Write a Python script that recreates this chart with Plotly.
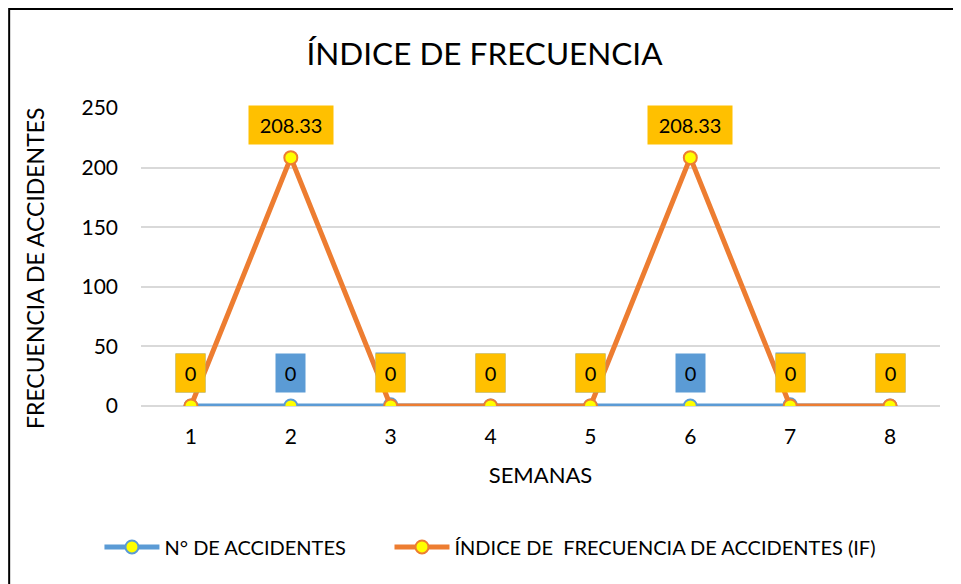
import plotly.graph_objects as go

semanas = [1, 2, 3, 4, 5, 6, 7, 8]
n_accidentes = [0, 0, 1, 0, 0, 0, 1, 0]
indice_frecuencia = [0, 208.33, 0, 0, 0, 208.33, 0, 0]

FONT = "Lato, Open Sans, sans-serif"
BLUE = "#5B9BD5"
ORANGE = "#ED7D31"
GOLD = "#FFC000"

fig = go.Figure()

fig.add_trace(
    go.Scatter(
        x=semanas,
        y=n_accidentes,
        name="N° DE ACCIDENTES",
        mode="lines+markers",
        line={"color": BLUE, "width": 5},
        marker={"size": 13, "color": "#FFFF00", "line": {"color": BLUE, "width": 2}},
        legend="legend",
    )
)
fig.add_trace(
    go.Scatter(
        x=semanas,
        y=indice_frecuencia,
        name="ÍNDICE DE  FRECUENCIA DE ACCIDENTES (IF)",
        mode="lines+markers",
        line={"color": ORANGE, "width": 5},
        marker={"size": 13, "color": "#FFFF00", "line": {"color": ORANGE, "width": 2}},
        legend="legend2",
    )
)

# data labels: blue first so the orange ones sit on top
for ys, bg in [(n_accidentes, BLUE), (indice_frecuencia, GOLD)]:
    for x, y in zip(semanas, ys):
        t = f"{y:g}"
        fig.add_annotation(
            x=x,
            y=y,
            text=t,
            showarrow=False,
            yshift=33,
            bgcolor=bg,
            borderpad=7,
            width=11 * len(t) + 4,
            font={"family": FONT, "size": 20, "color": "black"},
        )

# y axis title
fig.add_annotation(
    xref="paper",
    yref="paper",
    x=-0.1327,
    y=0.463,
    xanchor="center",
    yanchor="middle",
    text="FRECUENCIA DE ACCIDENTES",
    textangle=-90,
    showarrow=False,
    font={"family": FONT, "size": 23, "color": "black"},
)

# outer chart border
fig.add_shape(
    type="rect",
    xref="paper",
    yref="paper",
    x0=-0.165,
    x1=1.04,
    y0=-0.65,
    y1=1.332,
    line={"color": "black", "width": 2},
    fillcolor="rgba(0,0,0,0)",
    layer="below",
)

legend_style = {
    "orientation": "h",
    "xanchor": "left",
    "y": -0.473,
    "yanchor": "middle",
    "font": {"family": FONT, "size": 20, "color": "black"},
    "itemwidth": 55,
    "bgcolor": "rgba(0,0,0,0)",
}

# page body has an 8px margin, so the figure is 8px smaller than the window
fig.update_layout(
    width=953,
    height=576,
    margin={"l": 133, "r": 21, "t": 100, "b": 178},
    paper_bgcolor="white",
    plot_bgcolor="white",
    font={"family": FONT, "size": 20, "color": "black"},
    title={
        "text": "ÍNDICE DE FRECUENCIA",
        "x": 0.5,
        "xanchor": "center",
        "y": 0.921,
        "yanchor": "middle",
        "font": {"family": FONT, "size": 31.5, "color": "black"},
    },
    showlegend=True,
    legend={**legend_style, "x": -0.052},
    legend2={**legend_style, "x": 0.311},
)

fig.update_xaxes(
    title={"text": "SEMANAS", "font": {"family": FONT, "size": 22}, "standoff": 20},
    tickmode="array",
    tickvals=semanas,
    range=[0.5, 8.5],
    showgrid=False,
    zeroline=False,
    showline=False,
    ticks="",
    ticklabelstandoff=16,
    tickfont={"size": 21},
    automargin=False,
)
fig.update_yaxes(
    range=[0, 250],
    dtick=50,
    showgrid=True,
    gridcolor="#D9D9D9",
    gridwidth=1.5,
    zeroline=True,
    zerolinecolor="#D9D9D9",
    zerolinewidth=1.5,
    ticks="",
    ticklabelstandoff=22,
    tickfont={"size": 21},
    automargin=False,
)

fig.write_html("out.html")
